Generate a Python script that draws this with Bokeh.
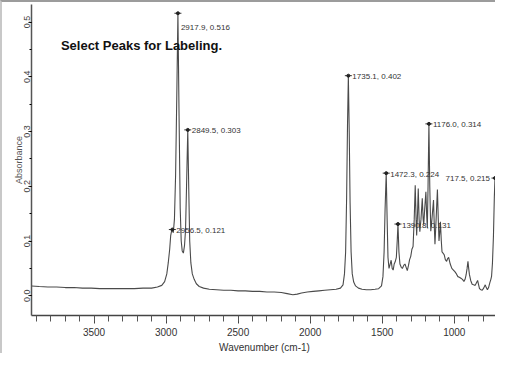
from bokeh.plotting import figure
from bokeh.models import Range1d, SingleIntervalTicker, Label, NumeralTickFormatter
from bokeh.core.properties import value
from bokeh.embed import file_html
from bokeh.resources import INLINE

# ---- spectrum (wavenumber, absorbance) ----
wavenumber = [
    3934, 3880, 3820, 3760, 3700, 3640, 3580, 3520, 3460, 3400, 3340, 3280, 3220, 3160,
    3100, 3060, 3030, 3010, 2995, 2985, 2975, 2968, 2962, 2956.5, 2950, 2942, 2934, 2926,
    2917.9, 2910, 2902, 2895, 2888, 2880, 2872, 2865, 2858, 2849.5, 2843, 2836, 2828, 2818,
    2805, 2790, 2770, 2740, 2700, 2650, 2600, 2550, 2500, 2450, 2400, 2350, 2300, 2250,
    2200, 2160, 2120, 2090, 2060, 2020, 1980, 1940, 1900, 1860, 1820, 1790, 1772, 1762,
    1754, 1747, 1741, 1735.1, 1729, 1723, 1716, 1708, 1698, 1685, 1665, 1640, 1610, 1580,
    1550, 1525, 1505, 1495, 1487, 1480, 1472.3, 1466, 1460, 1453, 1445, 1438, 1431, 1424,
    1417, 1410, 1402, 1396, 1390.8, 1384, 1377, 1368, 1360, 1350, 1342, 1334, 1326, 1318,
    1310, 1302, 1294, 1286, 1278, 1271, 1265, 1261, 1255, 1250, 1244, 1239, 1231, 1222,
    1216, 1212, 1205, 1197, 1192, 1187, 1182, 1176, 1170, 1163, 1155, 1144, 1139, 1134,
    1126, 1117, 1111, 1106, 1101, 1096, 1090, 1085, 1078, 1070, 1062, 1053, 1046, 1039,
    1028, 1017, 1006, 996, 985, 975, 965, 954, 943, 933, 925, 918, 911, 905, 900, 895,
    886, 876, 866, 855, 846, 838, 831, 825, 815, 806, 796, 785, 778, 770, 762, 753, 746,
    741, 735, 728, 722, 717.5, 712, 706, 700,
]
absorbance = [
    0.018, 0.017, 0.016, 0.016, 0.015, 0.015, 0.014, 0.014, 0.013, 0.013, 0.013, 0.013, 0.013, 0.014,
    0.014, 0.016, 0.019, 0.026, 0.040, 0.060, 0.085, 0.110, 0.118, 0.121, 0.115, 0.140, 0.220, 0.360,
    0.516, 0.330, 0.160, 0.100, 0.082, 0.078, 0.092, 0.120, 0.200, 0.303, 0.200, 0.100, 0.060, 0.040,
    0.030, 0.022, 0.017, 0.014, 0.012, 0.011, 0.010, 0.010, 0.009, 0.009, 0.008, 0.008, 0.007, 0.007,
    0.006, 0.004, 0.002, 0.003, 0.005, 0.007, 0.008, 0.009, 0.010, 0.011, 0.012, 0.014, 0.020, 0.040,
    0.080, 0.180, 0.310, 0.402, 0.300, 0.170, 0.080, 0.040, 0.025, 0.018, 0.014, 0.012, 0.011, 0.011,
    0.012, 0.013, 0.018, 0.035, 0.080, 0.160, 0.224, 0.140, 0.070, 0.050, 0.058, 0.065, 0.050, 0.047,
    0.058, 0.062, 0.070, 0.100, 0.131, 0.080, 0.058, 0.052, 0.050, 0.056, 0.058, 0.052, 0.046, 0.055,
    0.066, 0.072, 0.085, 0.090, 0.140, 0.202, 0.140, 0.110, 0.150, 0.196, 0.140, 0.117, 0.140, 0.178,
    0.140, 0.130, 0.160, 0.190, 0.150, 0.124, 0.200, 0.314, 0.200, 0.118, 0.140, 0.175, 0.130, 0.094,
    0.140, 0.194, 0.140, 0.100, 0.115, 0.135, 0.100, 0.080, 0.078, 0.075, 0.066, 0.063, 0.068, 0.070,
    0.058, 0.050, 0.047, 0.044, 0.040, 0.035, 0.034, 0.032, 0.030, 0.026, 0.030, 0.038, 0.050, 0.063, 0.050, 0.039,
    0.028, 0.021, 0.020, 0.019, 0.024, 0.028, 0.020, 0.013, 0.011, 0.010, 0.014, 0.020, 0.015, 0.011, 0.015, 0.024, 0.030,
    0.036, 0.060, 0.110, 0.180, 0.215, 0.170, 0.100, 0.060,
]

# ---- labelled peaks ----
peak_wn = [2956.5, 2917.9, 2849.5, 1735.1, 1472.3, 1390.8, 1176.0, 717.5]
peak_abs = [0.121, 0.516, 0.303, 0.402, 0.224, 0.131, 0.314, 0.215]
peak_text = ["2956.5, 0.121", "2917.9, 0.516", "2849.5, 0.303", "1735.1, 0.402",
             "1472.3, 0.224", "1390.8, 0.131", "1176.0, 0.314", "717.5, 0.215"]

title_text = "Select Peaks for Labeling."
x_label = "Wavenumber (cm-1)"
y_label = "Absorbance"

SANS = "Liberation Sans"

p = figure(width=495, height=353, output_backend="svg", toolbar_location=None,
           x_range=Range1d(3934, 700), y_range=Range1d(-0.036, 0.532),
           min_border_left=29, min_border_right=0, min_border_top=2, min_border_bottom=40)
p.styles = {"border-top": "2px solid #9c9c9c", "border-left": "2px solid #c8c8c8"}
p.outline_line_color = None
p.xgrid.visible = False
p.ygrid.visible = False
p.background_fill_color = "white"
p.border_fill_color = "white"

# x axis
p.xaxis.ticker = SingleIntervalTicker(interval=500, num_minor_ticks=5)
p.xaxis.axis_label = x_label
p.xaxis.axis_label_text_font = SANS
p.xaxis.axis_label_text_font_style = "normal"
p.xaxis.axis_label_text_font_size = "10px"
p.xaxis.axis_label_text_color = "#333333"
p.xaxis.axis_label_standoff = 3
p.xaxis.major_label_text_font = SANS
p.xaxis.major_label_text_font_size = "10px"
p.xaxis.major_label_text_color = "#333333"
p.xaxis.major_label_standoff = 4
p.xaxis.major_tick_out = 8
p.xaxis.major_tick_in = 0
p.xaxis.minor_tick_out = 6
p.xaxis.minor_tick_in = 0
p.xaxis.axis_line_color = "#444444"
p.xaxis.axis_line_width = 1.5
p.xaxis.major_tick_line_color = "#444444"
p.xaxis.minor_tick_line_color = "#555555"

# y axis
p.yaxis.ticker = SingleIntervalTicker(interval=0.1, num_minor_ticks=2)
p.yaxis.formatter = NumeralTickFormatter(format="0.0")
p.yaxis.axis_label = y_label
p.yaxis.axis_label_text_font = SANS
p.yaxis.axis_label_text_font_style = "normal"
p.yaxis.axis_label_text_font_size = "9px"
p.yaxis.axis_label_text_color = "#555555"
p.yaxis.axis_label_standoff = -2
p.yaxis.major_label_orientation = "vertical"
p.yaxis.major_label_text_font = SANS
p.yaxis.major_label_text_font_size = "9px"
p.yaxis.major_label_text_color = "#444444"
p.yaxis.major_label_standoff = -2
p.yaxis.major_tick_out = 3
p.yaxis.major_tick_in = 0
p.yaxis.minor_tick_out = 2
p.yaxis.minor_tick_in = 0
p.yaxis.axis_line_color = "#555555"
p.yaxis.axis_line_width = 1.5

# spectrum
p.line(wavenumber, absorbance, line_color="#4a4a4a", line_width=1.1)

# peak markers
p.scatter(peak_wn, peak_abs, marker="dash", size=7, line_color="#333333", line_width=1)
p.scatter(peak_wn, peak_abs, marker="circle", size=3, fill_color="#222222", line_color="#222222")

# peak labels
for wn, ab, txt in zip(peak_wn, peak_abs, peak_text):
    if wn < 800:
        align, xo, yo = "right", -5, 0
    elif wn == 2917.9:
        align, xo, yo = "left", 3, 14
    else:
        align, xo, yo = "left", 4, 1
    p.text([wn], [ab], text=[txt], text_font=value(SANS), text_font_size="8px",
           text_color="#333333", text_align=align, text_baseline="middle",
           x_offset=xo, y_offset=yo)

# title inside plot
p.add_layout(Label(x=3730, y=0.458, text=title_text, text_font=SANS,
                   text_font_style="bold", text_font_size="13px", text_color="#111111",
                   text_baseline="middle"))

open("out.html", "w").write(file_html(p, INLINE))
